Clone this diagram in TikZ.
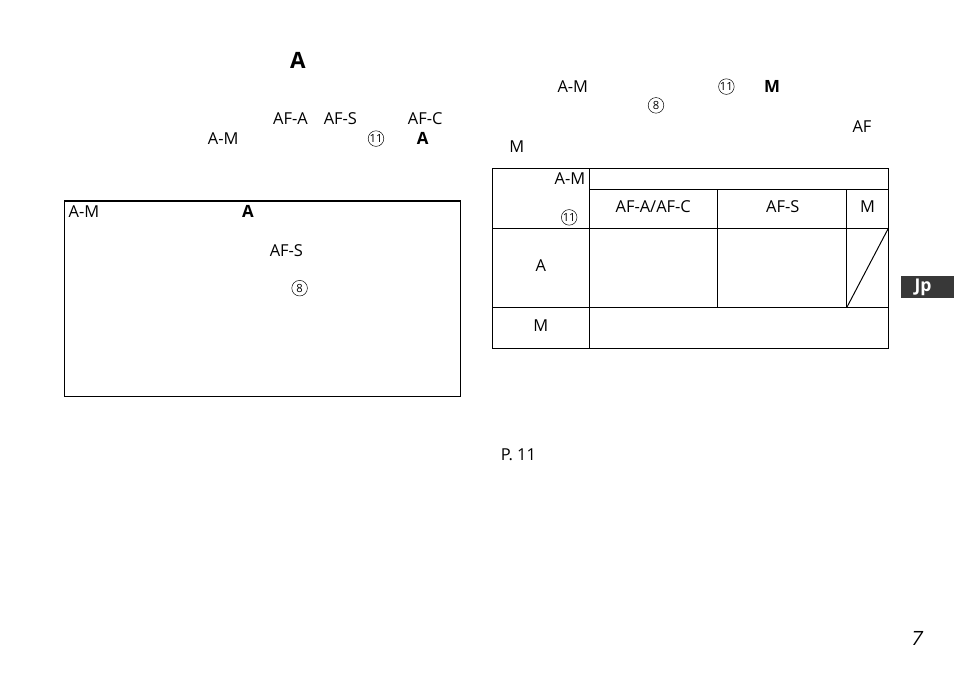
\documentclass[tikz,border=0pt]{standalone}
\usepackage{fontspec}
\setmainfont{Open Sans}
\newfontfamily\pagefont{Open Sans}[FakeSlant=0.2]
\definecolor{tabgrey}{RGB}{56,56,56}
\tikzset{
  plainlabel/.style={inner sep=0pt,font=\fontsize{11.7}{13}\selectfont},
  boldlabel/.style={inner sep=0pt,font=\fontsize{12}{13}\selectfont\bfseries},
  circlabel/.style={draw,circle,line width=0.35pt,minimum size=0.39cm,inner sep=0pt,font=\fontsize{8}{8}\selectfont},
  rulebox/.style={draw,line width=0.7pt}
}
\begin{document}
\begin{tikzpicture}
\useasboundingbox (0,0) rectangle (23.85,16.925);
% Left column text
\node[boldlabel,font=\fontsize{16}{17}\selectfont\bfseries] (headA) at (7.45,15.42) {A};
\node[plainlabel] (afA) at (7.26,13.96) {AF-A};
\node[plainlabel] (afS) at (8.51,13.96) {AF-S};
\node[plainlabel] (afC) at (10.63,13.96) {AF-C};
\node[plainlabel] (amLeft) at (5.58,13.46) {A-M};
\node[circlabel] (ringLeft) at (9.4,13.46) {11};
\node[boldlabel] (boldA) at (10.57,13.46) {A};

% Note box
\draw[line width=0.7pt] (1.61,7.02) rectangle (11.52,11.9);
\draw[line width=1.2pt] (1.61,11.9) -- (11.52,11.9);
\node[plainlabel] (amBox) at (2.1,11.63) {A-M};
\node[boldlabel] (boldBox) at (6.2,11.63) {A};
\node[plainlabel] (afSBox) at (7.16,10.67) {AF-S};
\node[circlabel] (ringBox) at (7.49,9.72) {8};

% Right column text
\node[plainlabel] (amRight) at (14.32,14.76) {A-M};
\node[circlabel] (ringRight) at (18.16,14.76) {11};
\node[boldlabel] (boldM) at (19.3,14.77) {M};
\node[circlabel] (ringEight) at (16.4,14.29) {8};
\node[plainlabel] (afRight) at (21.55,13.75) {AF};
\node[plainlabel] (mRight) at (12.92,13.26) {M};

% Table
\draw[rulebox] (12.31,8.22) rectangle (22.21,12.71);
\draw[rulebox] (14.73,12.19) -- (22.21,12.19);
\draw[rulebox] (12.31,11.22) -- (22.21,11.22);
\draw[rulebox] (12.31,9.24) -- (22.21,9.24);
\draw[rulebox] (14.73,8.22) -- (14.73,12.71);
\draw[rulebox] (17.93,9.24) -- (17.93,12.19);
\draw[rulebox] (21.17,9.24) -- (21.17,12.19);
\draw[line width=0.7pt] (21.17,9.24) -- (22.21,11.22);
\node[plainlabel] (amCell) at (14.25,12.47) {A-M};
\node[circlabel] (ringCell) at (14.23,11.49) {11};
\node[plainlabel] (afAC) at (16.33,11.77) {AF-A/AF-C};
\node[plainlabel] (afSCell) at (19.57,11.77) {AF-S};
\node[plainlabel] (mCell) at (21.69,11.77) {M};
\node[plainlabel] (aRow) at (13.52,10.29) {A};
\node[plainlabel] (mRow) at (13.52,8.78) {M};

% Page furniture
\node[plainlabel] (pageRef) at (12.96,5.56) {P. 11};
\node[boldlabel,font=\fontsize{12.5}{13}\selectfont\bfseries,fill=tabgrey,text=white,minimum width=1.33cm,minimum height=0.55cm] (jpTab) at (23.185,9.75) {\hspace*{-0.22cm}Jp};
\node[plainlabel,font=\fontsize{14}{15}\selectfont\pagefont] (pageNum) at (22.9,0.96) {7};
\end{tikzpicture}
\end{document}
